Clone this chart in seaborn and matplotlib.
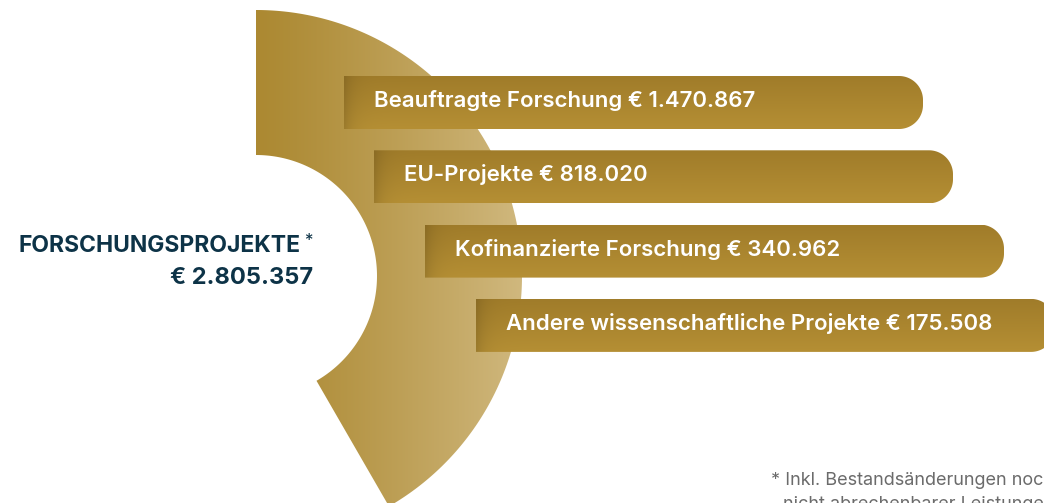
import numpy as np
import pandas as pd
import matplotlib
matplotlib.use("Agg")
import matplotlib.pyplot as plt
import seaborn as sns
from matplotlib.path import Path
from matplotlib.patches import PathPatch

# data
labels = ["Beauftragte Forschung", "EU-Projekte", "Kofinanzierte Forschung",
          "Andere wissenschaftliche Projekte"]
values = [1470867, 818020, 340962, 175508]
total_title = "FORSCHUNGSPROJEKTE"
total_value = 2805357
footnote = ["* Inkl. Bestandsänderungen noch", "nicht abrechenbarer Leistungen"]

# layout (pixels)
W, H = 1044, 503
bar_left = [344, 374, 425, 476]
bar_len = 579
first_center, spacing, bar_h = 102.5, 74.3, 53
cx, cy, r_out, r_in = 256, 276, 266, 121

navy = "#0d3347"
FONT = "Inter"


def euro(v):
    return "€ " + f"{v:,}".replace(",", ".")


def grad_image(ax, path, x0, x1, y0, y1, rgb):
    im = ax.imshow(rgb, extent=(x0, x1, y1, y0), origin="upper",
                   aspect="auto", interpolation="bilinear", zorder=2)
    patch = PathPatch(path, facecolor="none", edgecolor="none")
    ax.add_patch(patch)
    im.set_clip_path(patch)
    return im


sns.set_theme(style="white")
plt.rcParams["font.family"] = [FONT, "DejaVu Sans"]

fig = plt.figure(figsize=(W / 100, H / 100), dpi=100)
ax = fig.add_axes([0, 0, 1, 1])

# half donut
phi = np.radians(np.linspace(90, -60, 200))
outer = np.column_stack([cx + r_out * np.cos(phi), cy - r_out * np.sin(phi)])
inner = np.column_stack([cx + r_in * np.cos(phi[::-1]), cy - r_in * np.sin(phi[::-1])])
verts = np.vstack([outer, inner, outer[:1]])
codes = [Path.MOVETO] + [Path.LINETO] * (len(verts) - 2) + [Path.CLOSEPOLY]
arc_path = Path(verts, codes)
c_left = np.array([172, 137, 50]) / 255
c_right = np.array([208, 184, 126]) / 255
t = np.linspace(0, 1, 300) ** 1.2
row = c_left + (c_right - c_left) * t[:, None]
grad_image(ax, arc_path, cx, cx + r_out, 0, H, np.tile(row[None, :, :], (10, 1, 1)))

# bars
df = pd.DataFrame({"pos": [first_center + i * spacing for i in range(len(labels))],
                   "left": bar_left, "label": labels, "value": values})
bars = ax.barh(df["pos"], bar_len, left=df["left"], height=bar_h)

top_c = np.array([160, 124, 42]) / 255
bot_c = np.array([181, 143, 52]) / 255
for p, lab, val in zip(bars.patches, df["label"], df["value"]):
    x0, y0 = p.get_x(), p.get_y()
    x1, y1 = x0 + p.get_width(), y0 + p.get_height()
    p.set_visible(False)
    rr = 24
    a1 = np.radians(np.linspace(-90, 0, 30))
    a2 = np.radians(np.linspace(0, 90, 30))
    pts = [(x0, y0)]
    pts += list(zip(x1 - rr + rr * np.cos(a1), y0 + rr + rr * np.sin(a1)))
    pts += list(zip(x1 - rr + rr * np.cos(a2), y1 - rr + rr * np.sin(a2)))
    pts += [(x0, y1), (x0, y0)]
    bpath = Path(pts, [Path.MOVETO] + [Path.LINETO] * (len(pts) - 2) + [Path.CLOSEPOLY])
    nh, nw = 60, 300
    v = np.linspace(0, 1, nh)[:, None, None]
    img = top_c + (bot_c - top_c) * v
    img = np.tile(img, (1, nw, 1))
    xs = np.linspace(0, x1 - x0, nw)
    shade = 1 - 0.13 * np.exp(-xs / 9)
    img = img * shade[None, :, None]
    grad_image(ax, bpath, x0, x1, y0, y1, np.clip(img, 0, 1))
    ax.text(x0 + 30, (y0 + y1) / 2 - 2, f"{lab} {euro(val)}", color="white",
            fontsize=16, fontweight="semibold", va="center", ha="left", zorder=4)

# total label
ax.text(301, 246, total_title, color=navy, fontsize=16.5, fontweight="bold",
        ha="right", va="center", zorder=4)
ax.text(304, 241, "*", color=navy, fontsize=12, ha="left", va="center", zorder=4)
ax.text(313, 278, euro(total_value), color=navy, fontsize=17, fontweight="bold",
        ha="right", va="center", zorder=4)

# footnote
ax.text(771, 485, footnote[0], color="#6b6b6b", fontsize=13, ha="left",
        va="baseline", zorder=4)
ax.text(783, 509, footnote[1], color="#6b6b6b", fontsize=13, ha="left",
        va="baseline", zorder=4)

ax.set_xlim(0, W)
ax.set_ylim(H, 0)
ax.axis("off")
fig.savefig("out.png", dpi=100, facecolor="white")
